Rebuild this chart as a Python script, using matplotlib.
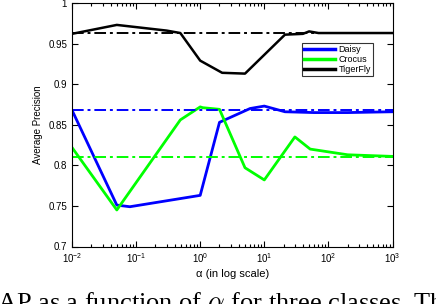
import matplotlib
matplotlib.use("Agg")
import matplotlib.pyplot as plt
import numpy as np

plt.rcParams['font.family'] = ['Liberation Sans', 'DejaVu Sans']

daisy_x = [0.01, 0.05, 0.08, 1.0, 2.0, 6.0, 10.0, 21.0, 60.0, 200.0, 1000.0]
daisy_y = [0.868, 0.751, 0.749, 0.763, 0.853, 0.870, 0.873, 0.866, 0.865, 0.865, 0.866]

crocus_x = [0.01, 0.05, 0.49, 1.0, 1.1, 2.0, 5.0, 10.0, 30.0, 52.0, 200.0, 1000.0]
crocus_y = [0.822, 0.745, 0.856, 0.872, 0.871, 0.869, 0.797, 0.782, 0.835, 0.820, 0.813, 0.811]

tiger_x = [0.01, 0.05, 0.3, 0.49, 1.0, 2.2, 5.0, 21.0, 40.0, 50.0, 70.0, 1000.0]
tiger_y = [0.962, 0.973, 0.966, 0.963, 0.929, 0.914, 0.913, 0.961, 0.962, 0.965, 0.963, 0.963]

baseline_daisy = 0.868
baseline_crocus = 0.810
baseline_tiger = 0.963

blue = '#0000ff'
green = '#00ff00'
black = '#000000'

fig = plt.figure(figsize=(4.36, 3.04), dpi=100)
ax = fig.add_axes([72/436, 1-246.5/304, 320.5/436, 243.5/304])

ax.plot(daisy_x, daisy_y, color=blue, lw=2, label='Daisy')
ax.plot(crocus_x, crocus_y, color=green, lw=2, label='Crocus')
ax.plot(tiger_x, tiger_y, color=black, lw=1.8, label='TigerFly')
ax.axhline(baseline_daisy, color=blue, lw=1.4, ls='-.', dashes=(6, 2, 1.5, 2))
ax.axhline(baseline_crocus, color=green, lw=1.4, ls='-.', dashes=(6, 2, 1.5, 2))
ax.axhline(baseline_tiger, color=black, lw=1.4, ls='-.', dashes=(6, 2, 1.5, 2))

ax.set_xscale('log')
ax.set_xlim(1e-2, 1e3)
ax.set_ylim(0.7, 1.0)
ax.set_yticks([0.7, 0.75, 0.8, 0.85, 0.9, 0.95, 1.0])
ax.set_yticklabels(['0.7', '0.75', '0.8', '0.85', '0.9', '0.95', '1'])
ax.tick_params(which='both', direction='in', top=True, right=True, labelsize=7, width=0.8)
ax.tick_params(which='major', length=4)
ax.tick_params(which='minor', length=2)
for s in ax.spines.values():
    s.set_linewidth(0.8)

ax.set_ylabel('Average Precision', fontsize=7, labelpad=4)
ax.set_xlabel('α (in log scale)', fontsize=8, labelpad=3)

leg = ax.legend(loc='upper right', bbox_to_anchor=(373/436, 1-43/304), bbox_transform=fig.transFigure,
                fontsize=6.5, frameon=True, fancybox=False, edgecolor='black', borderpad=0.25,
                labelspacing=0.1, handlelength=3.4, handletextpad=0.4, borderaxespad=0)
leg.get_frame().set_linewidth(0.8)
for h in leg.get_lines():
    h.set_linewidth(2.5)

fig.text(-3/436, 1-310/304, r'AP as a function of $\alpha$ for three classes. The', fontsize=19,
         family=['Liberation Serif', 'DejaVu Serif'], va='baseline', ha='left',
         math_fontfamily='cm')

fig.savefig('out.png', dpi=100)
